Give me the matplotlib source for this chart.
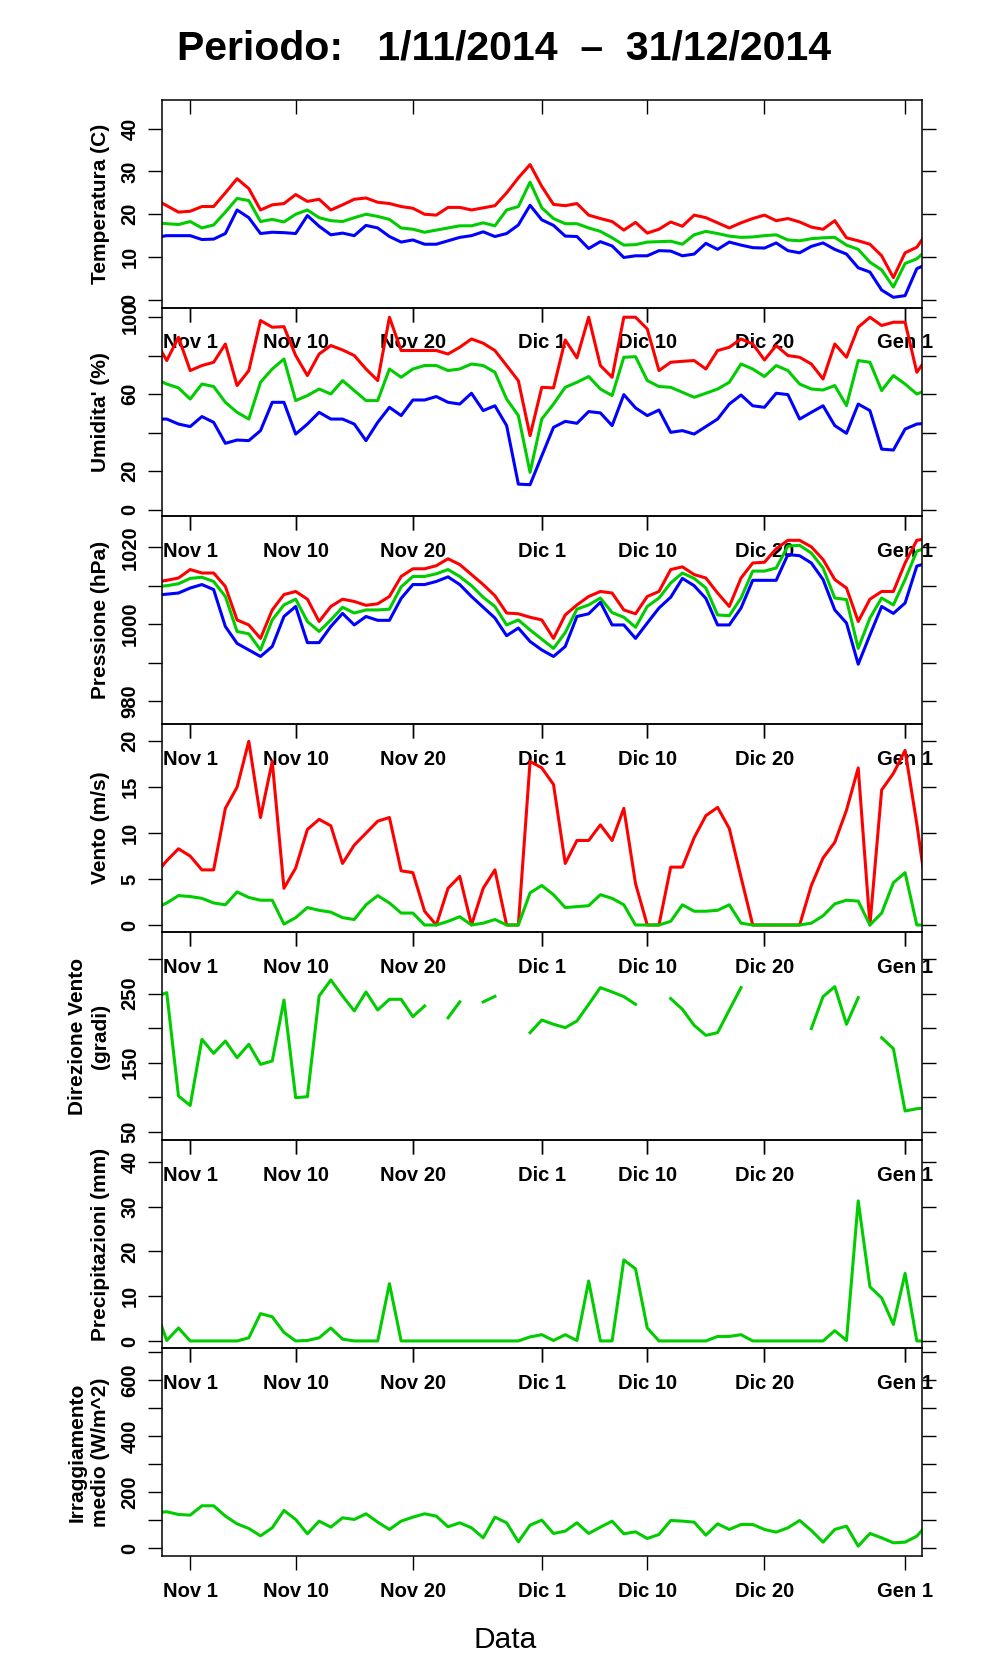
import numpy as np
import pandas as pd
import matplotlib
matplotlib.use('Agg')
import matplotlib.pyplot as plt

# --- Dati giornalieri (29/10/2014 - 03/01/2015) ---
giorni = pd.date_range('2014-10-29', '2015-01-03', freq='D')

nan = np.nan

temp_max = [23.5, 22.0, 20.5, 20.7, 21.8, 21.8, 25.0, 28.3, 26.0, 21.0,
            22.2, 22.5, 24.6, 23.0, 23.5, 21.0, 22.2, 23.5, 23.8, 22.8,
            22.5, 21.8, 21.4, 20.0, 19.8, 21.6, 21.6, 21.0, 21.5, 22.0,
            25.0, 28.5, 31.6, 26.5, 22.3, 22.0, 22.5, 19.8, 19.0, 18.3,
            16.3, 18.1, 15.6, 16.5, 18.2, 17.2, 19.8, 19.2, 18.0, 16.8,
            18.0, 19.0, 19.8, 18.5, 19.0, 18.2, 17.0, 16.5, 18.5, 14.5,
            13.8, 13.0, 10.3, 5.2, 11.0, 12.3, 16.2]
temp_med = [18.0, 17.8, 17.6, 18.3, 16.8, 17.5, 20.5, 23.7, 23.2, 18.3,
            18.8, 18.2, 20.0, 21.0, 19.2, 18.5, 18.3, 19.2, 20.0, 19.5,
            18.8, 16.8, 16.5, 15.8, 16.3, 16.8, 17.3, 17.3, 18.0, 17.3,
            21.0, 21.8, 27.5, 21.5, 19.0, 17.8, 17.8, 16.8, 16.0, 14.5,
            12.8, 12.9, 13.5, 13.6, 13.7, 13.0, 15.2, 16.0, 15.5, 14.9,
            14.6, 14.7, 15.0, 15.2, 14.0, 13.8, 14.3, 14.5, 14.6, 12.8,
            11.8, 8.8, 7.0, 3.0, 8.5, 9.6, 12.0]
temp_min = [14.6, 15.0, 15.0, 15.0, 14.1, 14.2, 15.5, 21.0, 19.2, 15.5,
            15.8, 15.7, 15.5, 19.7, 17.2, 15.2, 15.6, 15.0, 17.4, 16.8,
            14.8, 13.5, 14.0, 13.0, 13.0, 13.8, 14.6, 15.0, 15.9, 14.8,
            15.5, 17.5, 22.1, 18.7, 17.4, 14.9, 14.8, 12.0, 13.6, 12.6,
            9.9, 10.3, 10.3, 11.5, 11.4, 10.3, 10.7, 13.2, 11.8, 13.5,
            12.8, 12.2, 12.1, 13.3, 11.5, 11.0, 12.5, 13.3, 11.8, 10.7,
            7.5, 6.5, 2.3, 0.6, 1.0, 7.3, 8.5]

umid_max = [88.0, 77.5, 89.6, 72.3, 74.9, 76.6, 86.1, 64.5, 72.3, 98.3,
            94.8, 95.1, 80.1, 69.7, 80.9, 85.3, 83.0, 80.1, 73.1, 67.1,
            100.0, 82.7, 82.7, 82.7, 82.7, 80.9, 84.4, 88.7, 86.5, 82.7,
            74.9, 67.0, 38.5, 63.6, 63.3, 88.2, 78.9, 100.0, 74.9, 68.8,
            100.0, 100.0, 93.9, 72.3, 76.6, 77.1, 77.5, 73.1, 82.7, 84.4,
            88.7, 86.1, 77.8, 85.3, 80.1, 79.2, 75.7, 67.9, 86.1, 79.2,
            94.8, 100.0, 95.7, 97.4, 97.4, 71.4, 80.0]
umid_med = [68.0, 65.3, 63.3, 57.5, 65.3, 64.0, 55.8, 50.6, 47.1, 66.2,
            73.1, 78.3, 56.7, 59.3, 62.7, 60.1, 67.1, 61.9, 56.7, 56.7,
            73.1, 68.8, 73.1, 74.9, 74.9, 72.3, 73.1, 75.7, 74.9, 71.4,
            57.5, 48.9, 19.4, 47.1, 54.9, 63.6, 66.2, 69.2, 62.7, 59.3,
            79.2, 79.5, 67.1, 64.0, 63.6, 61.0, 58.4, 60.5, 62.7, 66.2,
            75.7, 73.1, 69.2, 74.9, 72.3, 65.3, 62.7, 62.2, 64.5, 54.1,
            77.5, 76.6, 61.9, 69.7, 65.3, 60.1, 62.5]
umid_min = [47.1, 47.1, 44.5, 43.2, 48.4, 45.4, 34.5, 36.2, 35.9, 41.1,
            55.8, 55.8, 39.3, 44.5, 50.6, 47.1, 47.1, 44.5, 35.9, 45.4,
            53.2, 48.9, 57.0, 57.0, 58.8, 55.8, 54.9, 60.5, 51.5, 54.0,
            43.7, 13.3, 13.0, 28.0, 42.8, 45.9, 44.9, 51.0, 50.3, 43.7,
            59.8, 52.9, 48.9, 51.8, 40.2, 41.1, 39.3, 43.2, 47.1, 54.9,
            59.6, 54.0, 53.2, 60.5, 59.8, 47.1, 50.6, 54.0, 43.7, 39.7,
            54.9, 51.5, 31.5, 31.0, 41.9, 44.5, 45.0]

press_max = [1010.9, 1011.4, 1012.0, 1014.2, 1013.3, 1013.3, 1009.8, 1001.1, 999.8, 996.3,
             1003.7, 1007.7, 1008.5, 1006.5, 1000.7, 1004.6, 1006.5, 1005.9, 1004.9, 1005.3,
             1007.2, 1012.4, 1014.4, 1014.4, 1015.2, 1017.0, 1015.5, 1012.9, 1010.3, 1007.4,
             1002.9, 1002.7, 1001.8, 1001.1, 996.3, 1002.4, 1005.0, 1007.2, 1008.5, 1008.1,
             1003.7, 1002.7, 1007.2, 1008.5, 1014.2, 1014.9, 1012.9, 1012.0, 1008.1, 1004.6,
             1012.0, 1015.9, 1016.1, 1019.6, 1021.8, 1021.8, 1020.1, 1016.8, 1011.6, 1009.4,
             1000.7, 1006.5, 1008.5, 1008.5, 1015.9, 1021.8, 1022.3]
press_med = [1009.7, 1010.0, 1010.5, 1011.9, 1012.2, 1011.1, 1007.2, 998.1, 997.5, 993.3,
             1001.1, 1005.0, 1006.5, 1000.7, 998.1, 1001.1, 1004.4, 1002.9, 1003.7, 1003.7,
             1003.9, 1009.7, 1012.4, 1012.4, 1013.1, 1014.2, 1012.4, 1010.0, 1007.0, 1004.6,
             999.8, 1001.1, 998.5, 996.1, 993.7, 997.8, 1003.9, 1005.0, 1006.8, 1003.0,
             1001.8, 999.2, 1004.6, 1006.8, 1010.7, 1013.3, 1011.9, 1009.4, 1002.4, 1002.2,
             1006.8, 1013.8, 1013.8, 1014.6, 1020.3, 1020.5, 1018.5, 1014.6, 1006.8, 1006.4,
             993.7, 1001.6, 1006.8, 1005.0, 1011.6, 1019.0, 1020.0]
press_min = [1007.5, 1007.8, 1008.1, 1009.4, 1010.3, 1009.0, 999.4, 995.0, 993.3, 991.6,
             994.2, 1002.0, 1004.6, 995.2, 995.2, 999.4, 1002.8, 999.8, 1002.0, 1001.0,
             1001.0, 1006.7, 1010.3, 1010.3, 1011.1, 1012.3, 1010.3, 1007.2, 1004.4, 1001.6,
             997.0, 999.0, 995.5, 993.3, 991.6, 994.2, 1002.0, 1002.7, 1005.7, 999.8,
             999.8, 996.3, 1000.3, 1004.2, 1007.0, 1011.9, 1010.0, 1006.7, 999.8, 999.8,
             1004.2, 1011.4, 1011.4, 1011.4, 1018.1, 1017.8, 1015.9, 1011.6, 1003.7, 1000.3,
             989.6, 997.2, 1004.6, 1002.8, 1005.5, 1015.1, 1016.0]

vento_max = [5.5, 7.0, 8.3, 7.5, 6.0, 6.0, 12.7, 15.0, 20.0, 11.7,
             17.8, 4.0, 6.2, 10.4, 11.5, 10.8, 6.7, 8.7, 10.0, 11.3,
             11.7, 5.9, 5.7, 1.5, 0.0, 4.0, 5.3, 0.0, 4.0, 6.0,
             0.0, 0.0, 17.8, 17.1, 15.3, 6.7, 9.2, 9.2, 10.9, 9.2,
             12.7, 4.5, 0.0, 0.0, 6.3, 6.3, 9.5, 11.9, 12.8, 10.5,
             5.2, 0.0, 0.0, 0.0, 0.0, 0.0, 4.3, 7.3, 9.0, 12.5,
             17.1, 0.0, 14.7, 16.5, 19.0, 11.0, 2.0]
vento_med = [1.8, 2.4, 3.2, 3.1, 2.9, 2.4, 2.2, 3.6, 3.0, 2.7,
             2.7, 0.1, 0.8, 1.9, 1.6, 1.4, 0.8, 0.6, 2.2, 3.2,
             2.4, 1.3, 1.3, 0.0, 0.0, 0.4, 0.9, 0.0, 0.2, 0.6,
             0.0, 0.0, 3.5, 4.3, 3.3, 1.9, 2.0, 2.1, 3.3, 2.9,
             2.2, 0.0, 0.0, 0.0, 0.4, 2.2, 1.5, 1.5, 1.6, 2.2,
             0.2, 0.0, 0.0, 0.0, 0.0, 0.0, 0.2, 1.0, 2.3, 2.7,
             2.6, 0.0, 1.3, 4.6, 5.7, 0.0, 0.0]

direzione = [245.0, 251.4, 101.7, 88.0, 183.8, 163.5, 181.4, 157.2, 176.6, 147.6,
             152.4, 240.8, 99.3, 100.7, 246.6, 269.8, 246.6, 224.9, 252.4, 226.3,
             241.8, 241.8, 216.7, 232.1, nan, 215.0, 238.0, nan, 238.0, 246.0,
             nan, nan, 193.5, 211.8, 205.6, 200.7, 210.4, 234.5, 258.7, 252.4,
             245.7, 234.5, nan, nan, 242.8, 227.3, 204.1, 189.6, 193.5, 226.3,
             258.7, nan, nan, nan, nan, nan, 199.3, 245.7, 260.1, 205.6,
             244.2, nan, 186.2, 170.3, 80.0, 83.3, 85.0]

pioggia = [7.4, 0.1, 2.9, 0.0, 0.0, 0.0, 0.0, 0.0, 0.7, 6.1,
           5.4, 1.9, 0.0, 0.1, 0.7, 2.9, 0.4, 0.0, 0.0, 0.0,
           12.8, 0.0, 0.0, 0.0, 0.0, 0.0, 0.0, 0.0, 0.0, 0.0,
           0.0, 0.0, 0.9, 1.4, 0.1, 1.4, 0.1, 13.4, 0.0, 0.0,
           18.1, 16.1, 2.9, 0.0, 0.0, 0.0, 0.0, 0.0, 1.0, 1.0,
           1.4, 0.0, 0.0, 0.0, 0.0, 0.0, 0.0, 0.0, 2.3, 0.1,
           31.3, 12.1, 9.6, 3.7, 15.1, 0.0, 0.0]

irraggiamento = [128.0, 131.0, 121.4, 119.0, 152.4, 152.4, 115.5, 88.0, 71.4, 45.2,
                 73.8, 135.7, 103.6, 52.4, 97.6, 76.2, 109.5, 103.6, 123.8, 94.0,
                 67.9, 97.6, 111.9, 123.8, 115.5, 77.4, 91.7, 73.8, 38.1, 111.9,
                 91.7, 23.8, 83.3, 101.2, 53.6, 61.9, 91.7, 53.6, 76.2, 97.6,
                 52.4, 59.5, 35.7, 50.0, 100.0, 97.6, 94.0, 47.6, 88.0, 67.9,
                 85.7, 85.7, 67.9, 58.3, 73.8, 100.0, 64.3, 22.6, 67.9, 79.8,
                 8.3, 53.6, 38.1, 20.2, 22.6, 44.0, 91.0]

# Etichette asse x
tick_date = pd.to_datetime(['2014-11-01', '2014-11-10', '2014-11-20', '2014-12-01',
                            '2014-12-10', '2014-12-20', '2015-01-01'])
tick_nomi = ['Nov 1', 'Nov 10', 'Nov 20', 'Dic 1', 'Dic 10', 'Dic 20', 'Gen 1']

ROSSO, VERDE, BLU = '#FF0000', '#00CC00', '#0000FF'

# (serie, etichetta y, limiti y, tick y, etichette tick y)
pannelli = [
    ([(temp_max, ROSSO), (temp_med, VERDE), (temp_min, BLU)], 'Temperatura (C)',
     (-1.8, 46.8), [0, 10, 20, 30, 40], ['0', '10', '20', '30', '40']),
    ([(umid_max, ROSSO), (umid_med, VERDE), (umid_min, BLU)], "Umidita' (%)",
     (-3.1, 105.0), [0, 20, 40, 60, 80, 100], ['0', '20', '', '60', '', '100']),
    ([(press_max, ROSSO), (press_med, VERDE), (press_min, BLU)], 'Pressione (hPa)',
     (974.1, 1028.2), [980, 990, 1000, 1010, 1020], ['980', '', '1000', '', '1020']),
    ([(vento_max, ROSSO), (vento_med, VERDE)], 'Vento (m/s)',
     (-0.75, 21.9), [0, 5, 10, 15, 20], ['0', '5', '10', '15', '20']),
    ([(direzione, VERDE)], 'Direzione Vento\n(gradi)',
     (38.0, 339.4), [50, 100, 150, 200, 250, 300], ['50', '', '150', '', '250', '']),
    ([(pioggia, VERDE)], 'Precipitazioni (mm)',
     (-1.6, 44.9), [0, 10, 20, 30, 40], ['0', '10', '20', '30', '40']),
    ([(irraggiamento, VERDE)], 'Irraggiamento\nmedio (W/m^2)',
     (-27.5, 715.0), [0, 100, 200, 300, 400, 500, 600, 700],
     ['0', '', '200', '', '400', '', '600', '']),
]


def plot_meteo():
    plt.rcParams['font.family'] = ['Liberation Sans', 'DejaVu Sans']

    W, H = 996, 1680
    fig = plt.figure(figsize=(W / 100, H / 100), dpi=100)
    fig.patch.set_facecolor('white')

    x_sin, x_des = 161.6, 921.5
    top0, h_pan = 99.5, 208.1
    inizio = pd.Timestamp('2014-11-01')
    xlim = (inizio - pd.Timedelta(days=2.44), inizio + pd.Timedelta(days=62.4))

    for i, (serie, etichetta, ylim, yt, ytl) in enumerate(pannelli):
        y_basso = 1 - (top0 + (i + 1) * h_pan) / H
        ax = fig.add_axes([x_sin / W, y_basso, (x_des - x_sin) / W, h_pan / H])
        ax.set_facecolor('none')

        for valori, colore in serie:
            ax.plot(giorni, valori, color=colore, linewidth=2.2)

        ax.set_xlim(xlim)
        ax.set_ylim(ylim)

        # asse x: tacche in basso verso l'esterno, in alto verso l'interno
        ax.xaxis.remove_overlapping_locs = False
        ax.set_xticks(tick_date)
        ax.set_xticklabels(tick_nomi, fontsize=14.5, fontweight='bold')
        ax.set_xticks(tick_date, minor=True)
        ax.tick_params(axis='x', which='major', direction='out', length=10,
                       width=1, pad=8.6, top=False)
        ax.tick_params(axis='x', which='minor', direction='in', length=10,
                       width=1, bottom=False, top=True, labelbottom=False)

        # asse y
        ax.set_yticks(yt)
        ax.set_yticklabels(ytl, fontsize=14.5, fontweight='bold',
                           rotation=90, va='center')
        ax.tick_params(axis='y', direction='out', length=10, width=1,
                       pad=5.8, right=True)

        ax.set_ylabel(etichetta, fontsize=15, fontweight='bold', linespacing=1.3)
        ax.yaxis.label.set_verticalalignment('center')
        xc = 89 if '\n' in etichetta else 100
        ax.yaxis.set_label_coords((xc - x_sin) / (x_des - x_sin), 0.5)

        for s in ax.spines.values():
            s.set_linewidth(1.1)

    fig.text(504 / W, 1 - 49 / H, 'Periodo:   1/11/2014  \u2013  31/12/2014',
             fontsize=29.5, fontweight='bold', ha='center', va='center')
    fig.text(505 / W, 1 - 1640 / H, 'Data', fontsize=21.5,
             ha='center', va='center')

    fig.savefig('out.png', dpi=100)


if __name__ == '__main__':
    plot_meteo()
